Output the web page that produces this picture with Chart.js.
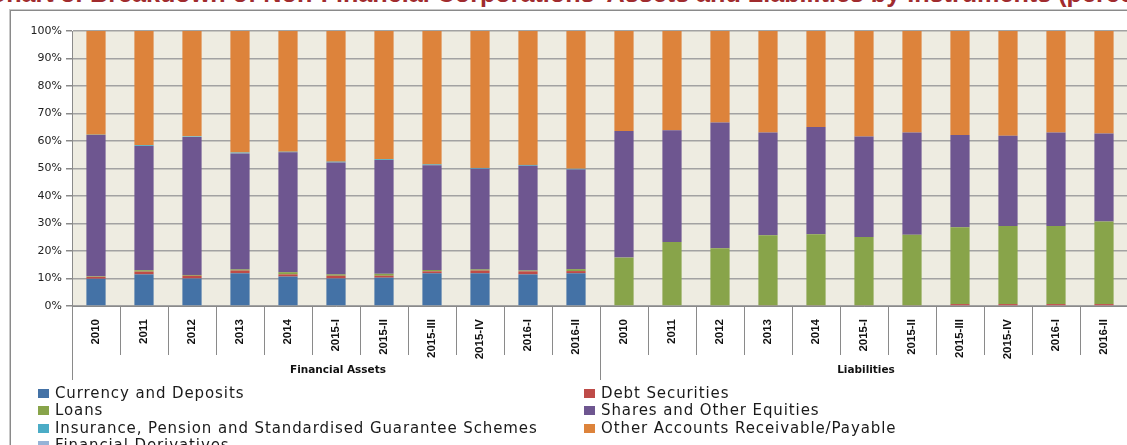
<!DOCTYPE html>
<html>
<head>
<meta charset="utf-8">
<script src="https://cdn.jsdelivr.net/npm/chart.js@4.4.1/dist/chart.umd.min.js"></script>
<style>
  html, body { margin:0; padding:0; background:#fff; overflow:hidden; }
  #wrap { position:relative; width:1127px; height:445px; overflow:hidden; background:#fff; }
  #frame { position:absolute; left:10px; top:10px; width:1200px; height:500px;
           border-left:1px solid #8a8a8a; border-top:1px solid #8a8a8a;
           box-shadow: -1px -1px 0 #c8c8c8; }
  #title { position:absolute; top:-12px; white-space:nowrap; font:bold 20px "Liberation Sans", Arial, sans-serif;
           color:#A02B2E; line-height:20px; }
  #cv { position:absolute; left:0; top:0; }
  .grp { position:absolute; top:363px; font:bold 10.5px "DejaVu Sans", sans-serif; color:#111; transform:translateX(-50%); white-space:nowrap; }
  .lg { position:absolute; font:15px "DejaVu Sans", sans-serif; color:#1a1a1a; white-space:nowrap; line-height:16px; letter-spacing:0.9px; }
  .lg i { position:absolute; left:-17px; top:4px; width:11px; height:9px; }
</style>
</head>
<body>
<div id="wrap">
  <div id="title">Chart 3: Breakdown of Non-Financial Corporations' Assets and Liabilities by Instruments (percentage)</div>
  <div id="frame"></div>
  <canvas id="cv" width="1140" height="445"></canvas>
  <div class="grp" style="left:338px">Financial Assets</div>
  <div class="grp" style="left:866px">Liabilities</div>
  <div id="legend"></div>
</div>
<script>
// ---- data ----
const periods = ['2010','2011','2012','2013','2014','2015-I','2015-II','2015-III','2015-IV','2016-I','2016-II'];
const groups = ['Financial Assets', 'Liabilities'];

const assetsCurrency   = [9.9, 11.5, 10.0, 11.9, 10.7, 10.0, 10.3, 11.9, 11.9, 11.5, 11.9];
const assetsDebt       = [0.7, 1.0, 1.0, 1.0, 0.8, 1.0, 0.7, 0.7, 1.0, 1.1, 0.8];
const assetsLoans      = [0.2, 0.5, 0.3, 0.4, 0.8, 0.5, 0.7, 0.5, 0.4, 0.3, 0.7];
const assetsShares     = [51.4, 45.2, 50.2, 42.2, 43.6, 40.7, 41.4, 38.1, 36.6, 38.1, 36.2];
const assetsInsurance  = [0.1, 0.3, 0.2, 0.3, 0.2, 0.3, 0.3, 0.3, 0.3, 0.3, 0.3];
const assetsOther      = [37.7, 41.5, 38.3, 44.2, 43.9, 47.5, 46.6, 48.5, 49.8, 48.7, 50.1];
const assetsDerivs     = [0, 0, 0, 0, 0, 0, 0, 0, 0, 0, 0];

const liabCurrency     = [0, 0, 0, 0, 0, 0, 0, 0, 0, 0, 0];
const liabDebt         = [0, 0, 0, 0.3, 0.3, 0.3, 0.3, 0.7, 0.7, 0.7, 0.7];
const liabLoans        = [17.6, 23.3, 21.0, 25.4, 25.8, 24.8, 25.6, 27.9, 28.4, 28.4, 30.0];
const liabShares       = [46.0, 40.6, 45.7, 37.4, 39.0, 36.5, 37.2, 33.6, 32.8, 34.0, 32.0];
const liabInsurance    = [0, 0, 0, 0, 0, 0, 0, 0, 0, 0, 0];
const liabOther        = [36.4, 36.1, 33.3, 36.9, 34.9, 38.4, 36.9, 37.8, 38.1, 36.9, 37.3];
const liabDerivs       = [0, 0, 0, 0, 0, 0, 0, 0, 0, 0, 0];

const yTicks = [0,10,20,30,40,50,60,70,80,90,100];

const seriesNames = ['Currency and Deposits','Debt Securities','Loans','Shares and Other Equities',
  'Insurance, Pension and Standardised Guarantee Schemes','Other Accounts Receivable/Payable','Financial Derivatives'];
const seriesColors = ['#4472A6','#BE4B48','#88A44A','#6E5690','#4BACC6','#DD833B','#95B3D7'];

// ---- build ----
const labels = periods.concat(periods);
const seriesData = [
  assetsCurrency.concat(liabCurrency),
  assetsDebt.concat(liabDebt),
  assetsLoans.concat(liabLoans),
  assetsShares.concat(liabShares),
  assetsInsurance.concat(liabInsurance),
  assetsOther.concat(liabOther),
  assetsDerivs.concat(liabDerivs)
];
const datasets = seriesNames.map((n, i) => ({
  label: n, data: seriesData[i], backgroundColor: seriesColors[i], borderWidth: 0,
  categoryPercentage: 1.0, barPercentage: 0.4, stack: 's'
}));

const decor = {
  id: 'decor',
  beforeDraw(chart) {
    const a = chart.chartArea, c = chart.ctx;
    c.save(); c.fillStyle = '#EEECE1'; c.fillRect(a.left, a.top, a.right - a.left, a.bottom - a.top); c.restore();
  },
  afterDraw(chart) {
    const a = chart.chartArea, c = chart.ctx;
    const n = labels.length, w = (a.right - a.left) / n;
    c.save(); c.strokeStyle = '#8a8a8a'; c.lineWidth = 1;
    for (let i = 0; i <= n; i++) {
      const x = Math.round(a.left + i * w) + 0.5;
      const len = (i === 0 || i === periods.length) ? 74 : 49;
      c.beginPath(); c.moveTo(x, a.bottom); c.lineTo(x, a.bottom + len); c.stroke();
    }
    c.restore();
  }
};

new Chart(document.getElementById('cv'), {
  type: 'bar',
  data: { labels, datasets },
  plugins: [decor],
  options: {
    responsive: false, animation: false, devicePixelRatio: 1,
    layout: { padding: { left: 10, top: 31, right: 12, bottom: 0 } },
    plugins: { legend: { display: false }, tooltip: { enabled: false } },
    scales: {
      x: {
        stacked: true,
        grid: { display: false },
        border: { display: true, color: '#8a8a8a' },
        ticks: { minRotation: 90, maxRotation: 90, padding: 5, color: '#111', autoSkip: false,
                 font: { family: 'Liberation Sans', size: 11.5, weight: 'bold' } },
        afterFit(s) { s.height = 139; }
      },
      y: {
        stacked: true, min: 0, max: 100,
        afterBuildTicks(s) { s.ticks = yTicks.map(v => ({ value: v })); },
        grid: { color: '#a2a2a2', lineWidth: 1.5, tickLength: 6, tickColor: '#8a8a8a' },
        border: { display: true, color: '#8a8a8a' },
        ticks: { color: '#222', padding: 4, callback: v => v + '%',
                 font: { family: 'DejaVu Sans', size: 11 } },
        afterFit(s) { s.width = 62; }
      }
    }
  }
});

// ---- legend (HTML) ----
const lgPos = [[55,385],[601,385],[55,402],[601,402],[55,420],[601,420],[55,437]];
const lg = document.getElementById('legend');
seriesNames.forEach((n, i) => {
  const d = document.createElement('div');
  d.className = 'lg'; d.style.left = lgPos[i][0] + 'px'; d.style.top = lgPos[i][1] + 'px';
  d.innerHTML = '<i style="background:' + seriesColors[i] + '"></i>' + n;
  lg.appendChild(d);
});

// ---- title placement ----
(function(){
  const t = document.getElementById('title');
  const cx = document.createElement('canvas').getContext('2d');
  cx.font = 'bold 20px "Liberation Sans"';
  const span = cx.measureText("Chart 3: Breakdown of Non-Financial Corporations' Assets and Liabilities by Instruments ").width;
  const fs = 20 * 1072 / span;
  t.style.fontSize = fs + 'px'; t.style.lineHeight = fs + 'px';
  t.style.left = '-12px';
  t.style.top = (2.5 - fs * 0.8465) + 'px';
})();
</script>
</body>
</html>
